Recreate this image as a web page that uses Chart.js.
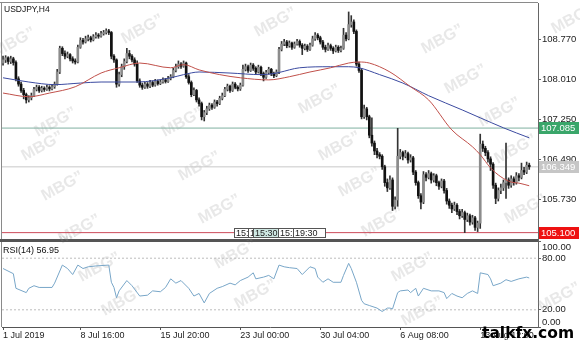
<!DOCTYPE html>
<html>
<head>
<meta charset="utf-8">
<script src="https://cdn.jsdelivr.net/npm/chart.js@4.4.0/dist/chart.umd.min.js"></script>
<style>
  html, body { margin: 0; padding: 0; background: #fff; }
  #wrap { position: relative; width: 580px; height: 342px; overflow: hidden; background: #fff; }
  #wrap canvas { position: absolute; left: 0; }
  #price { top: 0; }
  #rsi { top: 236px; }
</style>
</head>
<body>
<div id="wrap">
  <canvas id="price" width="580" height="241" style="width:580px;height:241px"></canvas>
  <canvas id="rsi" width="580" height="106" style="width:580px;height:106px"></canvas>
</div>
<script>
// USDJPY H4 candles, bar 0 = 1 Jul 16:00
const opens = [
  108.32,108.38,108.42,108.35,108.40,108.33,108.02,107.92,107.80,107.72,
  107.62,107.66,107.70,107.82,107.86,107.80,107.84,107.82,107.86,107.83,
  107.87,107.92,108.15,108.60,108.50,108.45,108.48,108.40,108.36,108.34,
  108.62,108.75,108.72,108.78,108.80,108.76,108.82,108.85,108.83,108.88,
  108.90,108.93,108.90,108.45,108.38,107.92,108.10,108.25,108.35,108.50,
  108.45,108.38,108.30,107.98,107.90,107.86,107.92,107.88,107.95,107.90,
  107.97,107.93,107.96,108.00,107.97,108.03,108.06,108.18,108.25,108.30,
  108.26,108.32,108.06,107.95,107.72,107.80,107.62,107.55,107.30,107.38,
  107.45,107.52,107.48,107.58,107.55,107.65,107.70,107.82,107.88,107.80,
  107.92,107.86,107.83,107.90,108.20,108.25,108.18,108.28,108.22,108.15,
  108.24,108.12,108.05,108.14,108.20,108.12,108.08,108.15,108.58,108.68,
  108.72,108.65,108.70,108.62,108.68,108.73,108.66,108.60,108.64,108.58,
  108.66,108.78,108.85,108.80,108.72,108.62,108.58,108.65,108.60,108.55,
  108.62,108.56,108.60,108.85,108.78,109.05,109.10,108.92,108.30,108.18,
  107.30,107.45,107.30,106.95,106.80,106.65,106.58,106.55,106.35,106.05,
  105.95,106.10,105.60,105.72,106.55,106.62,106.55,106.60,106.48,106.52,
  106.25,106.05,105.80,105.68,106.20,106.15,106.22,106.10,106.18,106.05,
  105.98,106.08,105.90,105.70,105.62,105.55,105.62,105.50,105.42,105.48,
  105.35,105.42,105.30,105.38,105.20,105.28,106.78,106.70,106.62,106.50,
  106.40,106.00,105.75,105.90,105.95,106.05,106.10,106.00,106.12,106.05,
  106.18,106.15,106.28,106.25,106.38
];
const highs = [
  108.45,108.46,108.44,108.45,108.43,108.36,108.06,107.96,107.84,107.75,
  107.70,107.75,107.86,107.90,107.89,107.88,107.87,107.90,107.89,107.91,
  107.96,108.20,108.64,108.63,108.55,108.53,108.50,108.44,108.40,108.66,
  108.80,108.79,108.83,108.85,108.83,108.86,108.90,108.88,108.92,108.94,
  108.97,108.96,108.92,108.48,108.40,108.15,108.30,108.40,108.60,108.56,
  108.48,108.42,108.36,108.02,107.94,107.96,107.95,107.99,107.98,108.01,
  108.00,108.00,108.04,108.03,108.07,108.10,108.22,108.30,108.36,108.33,
  108.36,108.34,108.10,107.98,107.85,107.82,107.66,107.58,107.42,107.50,
  107.56,107.55,107.62,107.61,107.69,107.75,107.86,107.92,107.90,107.96,
  107.95,107.89,107.94,108.28,108.30,108.28,108.32,108.31,108.25,108.28,
  108.26,108.15,108.18,108.24,108.22,108.15,108.19,108.62,108.73,108.77,
  108.75,108.74,108.72,108.72,108.77,108.76,108.69,108.68,108.67,108.70,
  108.83,108.90,108.88,108.83,108.75,108.66,108.70,108.68,108.63,108.66,
  108.65,108.64,108.98,108.90,109.29,109.22,109.14,108.95,108.34,108.22,
  107.52,107.48,107.33,107.28,106.84,106.70,106.62,106.58,106.38,106.12,
  106.18,106.14,105.78,107.08,106.68,106.65,106.66,106.63,106.58,106.55,
  106.28,106.08,105.84,106.26,106.24,106.28,106.25,106.22,106.21,106.08,
  106.12,106.11,105.94,105.74,105.66,105.68,105.65,105.54,105.54,105.51,
  105.47,105.45,105.43,105.41,105.32,106.97,106.84,106.74,106.66,106.54,
  106.43,106.04,105.95,106.02,106.10,106.80,106.14,106.18,106.16,106.24,
  106.22,106.42,106.34,106.44,106.42
];
const lows = [
  108.28,108.33,108.30,108.31,108.28,107.98,107.88,107.76,107.64,107.56,
  107.58,107.62,107.68,107.79,107.76,107.77,107.78,107.80,107.79,107.81,
  107.84,107.90,108.12,108.46,108.40,108.42,108.36,108.32,108.30,108.32,
  108.60,108.68,108.70,108.74,108.72,108.74,108.79,108.79,108.81,108.85,
  108.87,108.86,108.40,108.33,107.86,107.88,108.06,108.20,108.32,108.40,
  108.34,108.26,107.95,107.86,107.82,107.84,107.84,107.85,107.87,107.88,
  107.90,107.91,107.94,107.94,107.95,108.00,108.04,108.15,108.22,108.22,
  108.24,108.03,107.92,107.68,107.70,107.58,107.50,107.24,107.22,107.34,
  107.42,107.44,107.46,107.50,107.53,107.62,107.68,107.79,107.76,107.78,
  107.83,107.79,107.80,107.88,108.17,108.14,108.16,108.18,108.11,108.13,
  108.08,107.98,108.03,108.11,108.08,108.04,108.06,108.12,108.55,108.65,
  108.61,108.62,108.58,108.60,108.66,108.62,108.48,108.57,108.54,108.56,
  108.64,108.75,108.76,108.68,108.58,108.53,108.56,108.56,108.50,108.53,
  108.52,108.53,108.58,108.74,108.76,109.00,108.88,108.26,108.14,107.26,
  107.27,107.24,106.90,106.74,106.58,106.52,106.50,106.30,105.98,105.88,
  105.92,105.52,105.55,105.60,106.50,106.48,106.52,106.42,106.44,106.20,
  106.00,105.75,105.55,105.65,106.08,106.12,106.04,106.06,105.99,105.92,
  105.95,105.85,105.64,105.56,105.48,105.52,105.44,105.36,105.39,105.10,
  105.31,105.24,105.26,105.14,105.12,105.18,106.64,106.56,106.44,106.28,
  105.94,105.65,105.70,105.84,105.90,105.75,105.94,105.96,106.00,106.02,
  106.08,106.12,106.20,106.22,106.30
];
const closes = [
  108.38,108.42,108.35,108.40,108.33,108.02,107.92,107.80,107.72,107.62,
  107.66,107.70,107.82,107.86,107.80,107.84,107.82,107.86,107.83,107.87,
  107.92,108.15,108.60,108.50,108.45,108.48,108.40,108.36,108.34,108.62,
  108.75,108.72,108.78,108.80,108.76,108.82,108.85,108.83,108.88,108.90,
  108.93,108.90,108.45,108.38,107.92,108.10,108.25,108.35,108.50,108.45,
  108.38,108.30,107.98,107.90,107.86,107.92,107.88,107.95,107.90,107.97,
  107.93,107.96,108.00,107.97,108.03,108.06,108.18,108.25,108.30,108.26,
  108.32,108.06,107.95,107.72,107.80,107.62,107.55,107.30,107.38,107.45,
  107.52,107.48,107.58,107.55,107.65,107.70,107.82,107.88,107.80,107.92,
  107.86,107.83,107.90,108.20,108.25,108.18,108.28,108.22,108.15,108.24,
  108.12,108.05,108.14,108.20,108.12,108.08,108.15,108.58,108.68,108.72,
  108.65,108.70,108.62,108.68,108.73,108.66,108.60,108.64,108.58,108.66,
  108.78,108.85,108.80,108.72,108.62,108.58,108.65,108.60,108.55,108.62,
  108.56,108.60,108.85,108.78,109.05,109.10,108.92,108.30,108.18,107.30,
  107.45,107.30,106.95,106.80,106.65,106.58,106.55,106.35,106.05,105.95,
  106.10,105.60,105.72,106.55,106.62,106.55,106.60,106.48,106.52,106.25,
  106.05,105.80,105.68,106.20,106.15,106.22,106.10,106.18,106.05,105.98,
  106.08,105.90,105.70,105.62,105.55,105.62,105.50,105.42,105.48,105.35,
  105.42,105.30,105.38,105.20,105.28,106.78,106.70,106.62,106.50,106.40,
  106.00,105.75,105.90,105.95,106.05,106.10,106.00,106.12,106.05,106.18,
  106.15,106.28,106.25,106.38,106.35
];

// moving averages, read at some bars
const redMaIdx = [0,10,18,28,38,45,53,65,70,76,84,92,103,111,119,127,134,138,142,150,158,165,174,182,185,189,193,197,200,204];
const redMaVal = [107.75,107.68,107.75,107.87,108.13,108.23,108.32,108.23,108.29,108.19,108.10,108.04,108.00,108.06,108.15,108.23,108.32,108.34,108.32,108.15,107.87,107.62,107.05,106.73,106.58,106.33,106.16,106.06,106.04,105.99];
const blueMaIdx = [0,10,20,30,38,52,65,70,76,88,100,105,107,115,127,134,138,146,155,165,178,185,194,204];
const blueMaVal = [108.04,107.96,107.91,107.94,107.96,107.96,108.04,108.10,108.15,108.13,108.10,108.12,108.14,108.23,108.25,108.25,108.23,108.10,107.94,107.70,107.43,107.28,107.09,106.90];

// RSI(14)
const rsiIdx = [0,4,5,9,10,12,14,19,20,23,25,27,29,31,33,36,41,42,43,44,45,48,50,53,56,58,61,63,65,67,69,72,74,76,78,80,83,85,88,90,92,95,97,98,101,103,105,107,109,111,114,116,119,121,122,124,126,128,131,132,134,135,137,139,140,142,145,147,149,150,151,153,154,157,158,160,161,163,166,169,171,172,174,176,178,180,182,184,185,188,189,190,193,195,197,200,203,204];
const rsiVal = [68,62,45,40,45,48,46,46,51,72,68,61,72,68,70,71,72,52,46,34,42,54,48,36,37,42,41,46,56,51,54,45,36,39,28,39,45,47,51,49,54,58,63,56,58,60,56,72,70,69,68,61,70,68,58,52,56,52,52,60,74,68,52,31,27,25,22,18,22,22,21,40,42,43,40,45,36,45,42,42,40,33,39,36,34,39,42,39,63,61,56,48,51,55,53,56,58,57];
const rsiLevels = [80, 20];

// horizontal lines and their price tags
const levelValues = [107.085, 106.349, 105.100];
const levelLineColors = ['#7fb0a0', '#c8c8c8', '#cc4b5a'];
const levelTagColors = ['#3aa66a', '#c6c6c6', '#ee1111'];

// axes
const priceTicks = [105.730, 106.490, 107.250, 108.010, 108.770];
const rsiTicks = [0, 20, 80, 100];
const rsiEdgeTicks = [100, 0];
const timeTickIdx = [0, 30, 61, 92, 123, 154, 185];
const timeTickText = ['1 Jul 2019', '8 Jul 16:00', '15 Jul 20:00', '23 Jul 00:00', '30 Jul 04:00', '6 Aug 08:00', '13 Aug 12:00'];

const X_MIN = -0.4, X_MAX = 207.4;
const FONT = '"Liberation Sans", Arial, sans-serif';

const wmPoints = [[140,30],[273,23],[12,43],[180,123],[53,123],[440,40],[570,20],[463,80],[317,100],[497,113],
  [40,147],[197,167],[60,187],[217,210],[77,230],[337,147],[357,183],[380,223],[513,150],[523,210],
  [97,268],[120,302],[253,295],[410,268],[420,312],[557,298],[233,255]];

function drawWatermarks(ctx, offsetY) {
  ctx.save();
  ctx.font = 'bold 16px ' + FONT;
  ctx.fillStyle = 'rgba(150,150,150,0.22)';
  wmPoints.forEach(p => {
    ctx.save();
    ctx.translate(p[0], p[1] - offsetY);
    ctx.rotate(-0.5);
    ctx.fillText('MBG\u201D', -20, 5);
    ctx.restore();
  });
  ctx.restore();
}

const candleBull = [], candleBear = [], wicks = [];
opens.forEach((o, i) => {
  wicks.push({ x: i, y: [lows[i], highs[i]] });
  if (closes[i] >= o) candleBull.push({ x: i, y: [o, closes[i]] });
  else candleBear.push({ x: i, y: [o, closes[i]] });
});

const priceFrame = {
  id: 'priceFrame',
  beforeDatasetsDraw(chart) { drawWatermarks(chart.ctx, 0); },
  afterDraw(chart) {
    const { ctx, chartArea: a } = chart;
    const y = chart.scales.y;
    ctx.save();
    ctx.strokeStyle = '#8a8a8a';
    ctx.lineWidth = 1;
    ctx.beginPath();
    ctx.moveTo(1.5, a.top); ctx.lineTo(1.5, a.bottom);
    ctx.moveTo(0, 2.5); ctx.lineTo(a.right, 2.5);
    ctx.stroke();
    ctx.strokeStyle = '#555';
    ctx.lineWidth = 2;
    ctx.beginPath();
    ctx.moveTo(0, 240); ctx.lineTo(a.right, 240);
    ctx.stroke();

    ctx.fillStyle = '#111';
    ctx.font = '8.5px ' + FONT;
    ctx.textBaseline = 'middle';
    ctx.fillText('USDJPY,H4', 4, 10);

    // time markers sitting on the bottom line
    const boxes = [['15:', 234, 14, '#fff'], ['1', 248, 5, '#fff'], ['15:30', 253, 25, '#cfe8e3'], ['15:', 278, 15, '#fff'], ['19:30', 293, 32, '#fff']];
    ctx.font = '9px ' + FONT;
    boxes.forEach(b => {
      ctx.fillStyle = b[3];
      ctx.fillRect(b[1], 228, b[2], 10);
      ctx.strokeStyle = '#555';
      ctx.lineWidth = 1;
      ctx.strokeRect(b[1] + 0.5, 228.5, b[2], 9);
      ctx.fillStyle = '#222';
      ctx.fillText(b[0], b[1] + 2, 233.5);
    });

    // price tags
    ctx.font = '9.5px ' + FONT;
    levelValues.forEach((v, k) => {
      const py = Math.round(y.getPixelForValue(v));
      ctx.fillStyle = levelTagColors[k];
      ctx.fillRect(a.right + 1, py - 6, 40, 12);
      ctx.fillStyle = '#fff';
      ctx.fillText(v.toFixed(3), a.right + 3, py + 0.5);
    });
    ctx.restore();
  }
};

const rsiFrame = {
  id: 'rsiFrame',
  beforeDatasetsDraw(chart) { drawWatermarks(chart.ctx, 236); },
  afterDraw(chart) {
    const { ctx, chartArea: a } = chart;
    const y = chart.scales.y;
    ctx.save();
    ctx.strokeStyle = '#8a8a8a';
    ctx.lineWidth = 1;
    ctx.beginPath();
    ctx.moveTo(1.5, a.top); ctx.lineTo(1.5, a.bottom);
    ctx.stroke();
    ctx.strokeStyle = '#555';
    ctx.lineWidth = 1;
    ctx.beginPath();
    ctx.moveTo(0, a.top + 0.5); ctx.lineTo(a.right, a.top + 0.5);
    ctx.stroke();
    ctx.fillStyle = '#111';
    ctx.font = '9px ' + FONT;
    ctx.textBaseline = 'middle';
    ctx.fillText('RSI(14) 56.95', 3, 15);
    // 100 and 0 labels sit inside the panel, as the terminal draws them
    ctx.fillStyle = '#222';
    ctx.font = '9.5px ' + FONT;
    rsiEdgeTicks.forEach(v => {
      const py = y.getPixelForValue(v) + (v === 100 ? 6 : -5);
      ctx.fillText(v.toFixed(2), a.right + 4, py);
    });
    ctx.fillStyle = '#000';
    ctx.font = 'bold 15.5px "DejaVu Sans", sans-serif';
    ctx.textBaseline = 'alphabetic';
    ctx.fillText('talkfx.com', 482, 102);
    ctx.restore();
  }
};

const levelSets = levelValues.map((v, k) => ({
  type: 'line',
  data: [{ x: X_MIN, y: v }, { x: X_MAX, y: v }],
  borderColor: levelLineColors[k],
  borderWidth: 1,
  pointRadius: 0,
  order: 5
}));

const priceChart = new Chart(document.getElementById('price'), {
  type: 'bar',
  data: {
    datasets: [
      { type: 'line', data: redMaIdx.map((x, k) => ({ x, y: redMaVal[k] })), borderColor: '#c0504a', borderWidth: 1, pointRadius: 0, cubicInterpolationMode: 'monotone', order: 0 },
      { type: 'line', data: blueMaIdx.map((x, k) => ({ x, y: blueMaVal[k] })), borderColor: '#3b4aa0', borderWidth: 1, pointRadius: 0, cubicInterpolationMode: 'monotone', order: 0 },
      { data: candleBull, backgroundColor: '#8c8c8c', borderWidth: 0, barThickness: 2, grouped: false, minBarLength: 1, order: 1 },
      { data: candleBear, backgroundColor: '#111', borderWidth: 0, barThickness: 2, grouped: false, minBarLength: 1, order: 1 },
      { data: wicks, backgroundColor: '#333', borderWidth: 0, barThickness: 1, grouped: false, order: 2 },
      ...levelSets
    ]
  },
  options: {
    responsive: false,
    animation: false,
    devicePixelRatio: 1,
    layout: { padding: { left: 2, top: 3, right: 0, bottom: 1 } },
    plugins: { legend: { display: false }, tooltip: { enabled: false } },
    scales: {
      x: { type: 'linear', min: X_MIN, max: X_MAX, offset: false, display: false },
      y: {
        position: 'right',
        min: 104.96,
        max: 109.46,
        afterBuildTicks: s => { s.ticks = priceTicks.map(v => ({ value: v })); },
        afterFit: s => { s.width = 42; s.paddingTop = 0; s.paddingBottom = 0; },
        ticks: { callback: v => v.toFixed(3), color: '#222', font: { size: 9.5, family: FONT }, padding: 1 },
        grid: { drawOnChartArea: false, tickLength: 3, color: '#666' },
        border: { color: '#666' }
      }
    }
  },
  plugins: [priceFrame]
});

const rsiChart = new Chart(document.getElementById('rsi'), {
  type: 'line',
  data: {
    datasets: [
      { data: rsiIdx.map((x, k) => ({ x, y: rsiVal[k] })), borderColor: '#78a6c8', borderWidth: 1, pointRadius: 0 },
      ...rsiLevels.map(v => ({ data: [{ x: X_MIN, y: v }, { x: X_MAX, y: v }], borderColor: '#bdbdbd', borderWidth: 1, borderDash: [2, 2], pointRadius: 0 }))
    ]
  },
  options: {
    responsive: false,
    animation: false,
    devicePixelRatio: 1,
    layout: { padding: { left: 2, top: 5, right: 0, bottom: 0 } },
    plugins: { legend: { display: false }, tooltip: { enabled: false } },
    scales: {
      x: {
        type: 'linear', min: X_MIN, max: X_MAX, offset: false,
        afterBuildTicks: s => { s.ticks = timeTickIdx.map(v => ({ value: v })); },
        afterFit: s => { s.height = 15; s.paddingLeft = 0; s.paddingRight = 0; },
        ticks: { callback: v => timeTickText[timeTickIdx.indexOf(v)], align: 'start', autoSkip: false, maxRotation: 0, padding: 0, color: '#222', font: { size: 9, family: FONT } },
        grid: { drawOnChartArea: false, tickLength: 3, color: '#555' },
        border: { color: '#555' }
      },
      y: {
        position: 'right', min: 0, max: 100,
        afterBuildTicks: s => { s.ticks = rsiTicks.map(v => ({ value: v })); },
        afterFit: s => { s.width = 42; s.paddingTop = 0; s.paddingBottom = 0; },
        ticks: { callback: v => (rsiEdgeTicks.includes(v) ? '' : v.toFixed(2)), color: '#222', font: { size: 9.5, family: FONT }, padding: 1 },
        grid: { drawOnChartArea: false, tickLength: 3, color: '#666' },
        border: { color: '#666' }
      }
    }
  },
  plugins: [rsiFrame]
});
</script>
</body>
</html>
